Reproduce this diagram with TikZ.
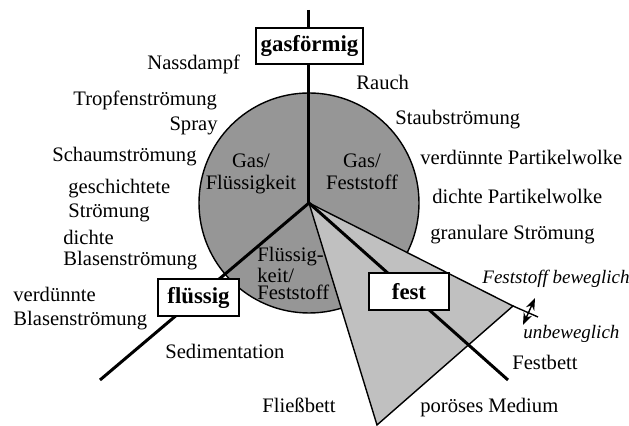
\documentclass[tikz,border=0pt]{standalone}
\usepackage{fontspec}
\setmainfont{Liberation Serif}
\usetikzlibrary{arrows.meta}
\definecolor{diskgray}{RGB}{150,150,150}
\definecolor{trigray}{RGB}{192,192,192}
\begin{document}
\begin{tikzpicture}[x=0.5pt,y=-0.5pt,
  lbl/.style={inner sep=0pt, anchor=base west, align=left, font=\fontsize{10.3}{12}\selectfont},
  ilbl/.style={lbl, font=\itshape\fontsize{9.5}{11}\selectfont},
  phase/.style={draw, line width=0.9pt, fill=white, inner sep=0pt,
    font=\bfseries\fontsize{11.4}{13}\selectfont},
  axis/.style={line width=1.5pt},
  edge/.style={line width=0.7pt}]
\useasboundingbox (0,0) rectangle (629,426);
% geometry
\coordinate (c) at (309,203);
\coordinate (top) at (309,10);
\coordinate (ll) at (100,380);
\coordinate (lr) at (508,380);
\coordinate (t1) at (513,306);
\coordinate (t2) at (377,425);
\coordinate (ext) at (538,317);
\coordinate (a1) at (535,298);
\coordinate (a2) at (523,325);
% disk and solid wedge
\node[circle, draw, edge, fill=diskgray, minimum size=110pt, inner sep=0pt] (disk) at (c) {};
\draw[edge, fill=trigray] (c) -- (t1) -- (t2) -- cycle;
\draw[edge] (t1) -- (ext);
\draw[edge, {Stealth[length=6pt,width=4.5pt]}-{Stealth[length=6pt,width=4.5pt]}] (a1) -- (a2);
% axes
\draw[axis] (top) -- (c);
\draw[axis] (c) -- (ll);
\draw[axis] (c) -- (lr);
% phase boxes
\node[phase, minimum width=53.5pt, minimum height=18pt] (gas) at (309.5,46) {gasförmig};
\node[phase, minimum width=40.5pt, minimum height=18.5pt] (liq) at (198.5,297.5) {flüssig};
\node[phase, minimum width=40pt, minimum height=18.5pt] (sol) at (409,291.5) {fest};
% region labels inside disk (base = last line)
\node[lbl, anchor=base, align=center, font=\fontsize{10.3}{11}\selectfont] (gl) at (251,190) {Gas/\\Flüssigkeit};
\node[lbl, anchor=base, align=center, font=\fontsize{10.3}{11}\selectfont] (gs) at (362,190) {Gas/\\Feststoff};
\node[lbl, font=\fontsize{10.3}{8.75}\selectfont] (ls) at (257,300) {Flüssig-\\keit/\\Feststoff};
% left labels
\node[lbl] (n1) at (147,70) {Nassdampf};
\node[lbl] (n2) at (73,106) {Tropfenströmung};
\node[lbl, anchor=base east] (n3) at (218,131) {Spray};
\node[lbl] (n4) at (52,162) {Schaumströmung};
\node[lbl] (n5) at (68,218) {geschichtete\\Strömung};
\node[lbl, font=\fontsize{10.3}{10.5}\selectfont] (n6) at (63,266) {dichte\\Blasenströmung};
\node[lbl] (n7) at (13,326) {verdünnte\\Blasenströmung};
\node[lbl] (n8) at (165,359) {Sedimentation};
\node[lbl] (n9) at (262,413) {Fließbett};
% right labels
\node[lbl] (m1) at (356,90) {Rauch};
\node[lbl] (m2) at (395,125) {Staubströmung};
\node[lbl] (m3) at (420,165) {verdünnte Partikelwolke};
\node[lbl] (m4) at (432,204) {dichte Partikelwolke};
\node[lbl] (m5) at (430,240) {granulare Strömung};
\node[ilbl] (m6) at (482,284) {Feststoff beweglich};
\node[ilbl] (m7) at (523,339) {unbeweglich};
\node[lbl] (m8) at (512,370) {Festbett};
\node[lbl] (m9) at (420,413) {poröses Medium};
\end{tikzpicture}
\end{document}
